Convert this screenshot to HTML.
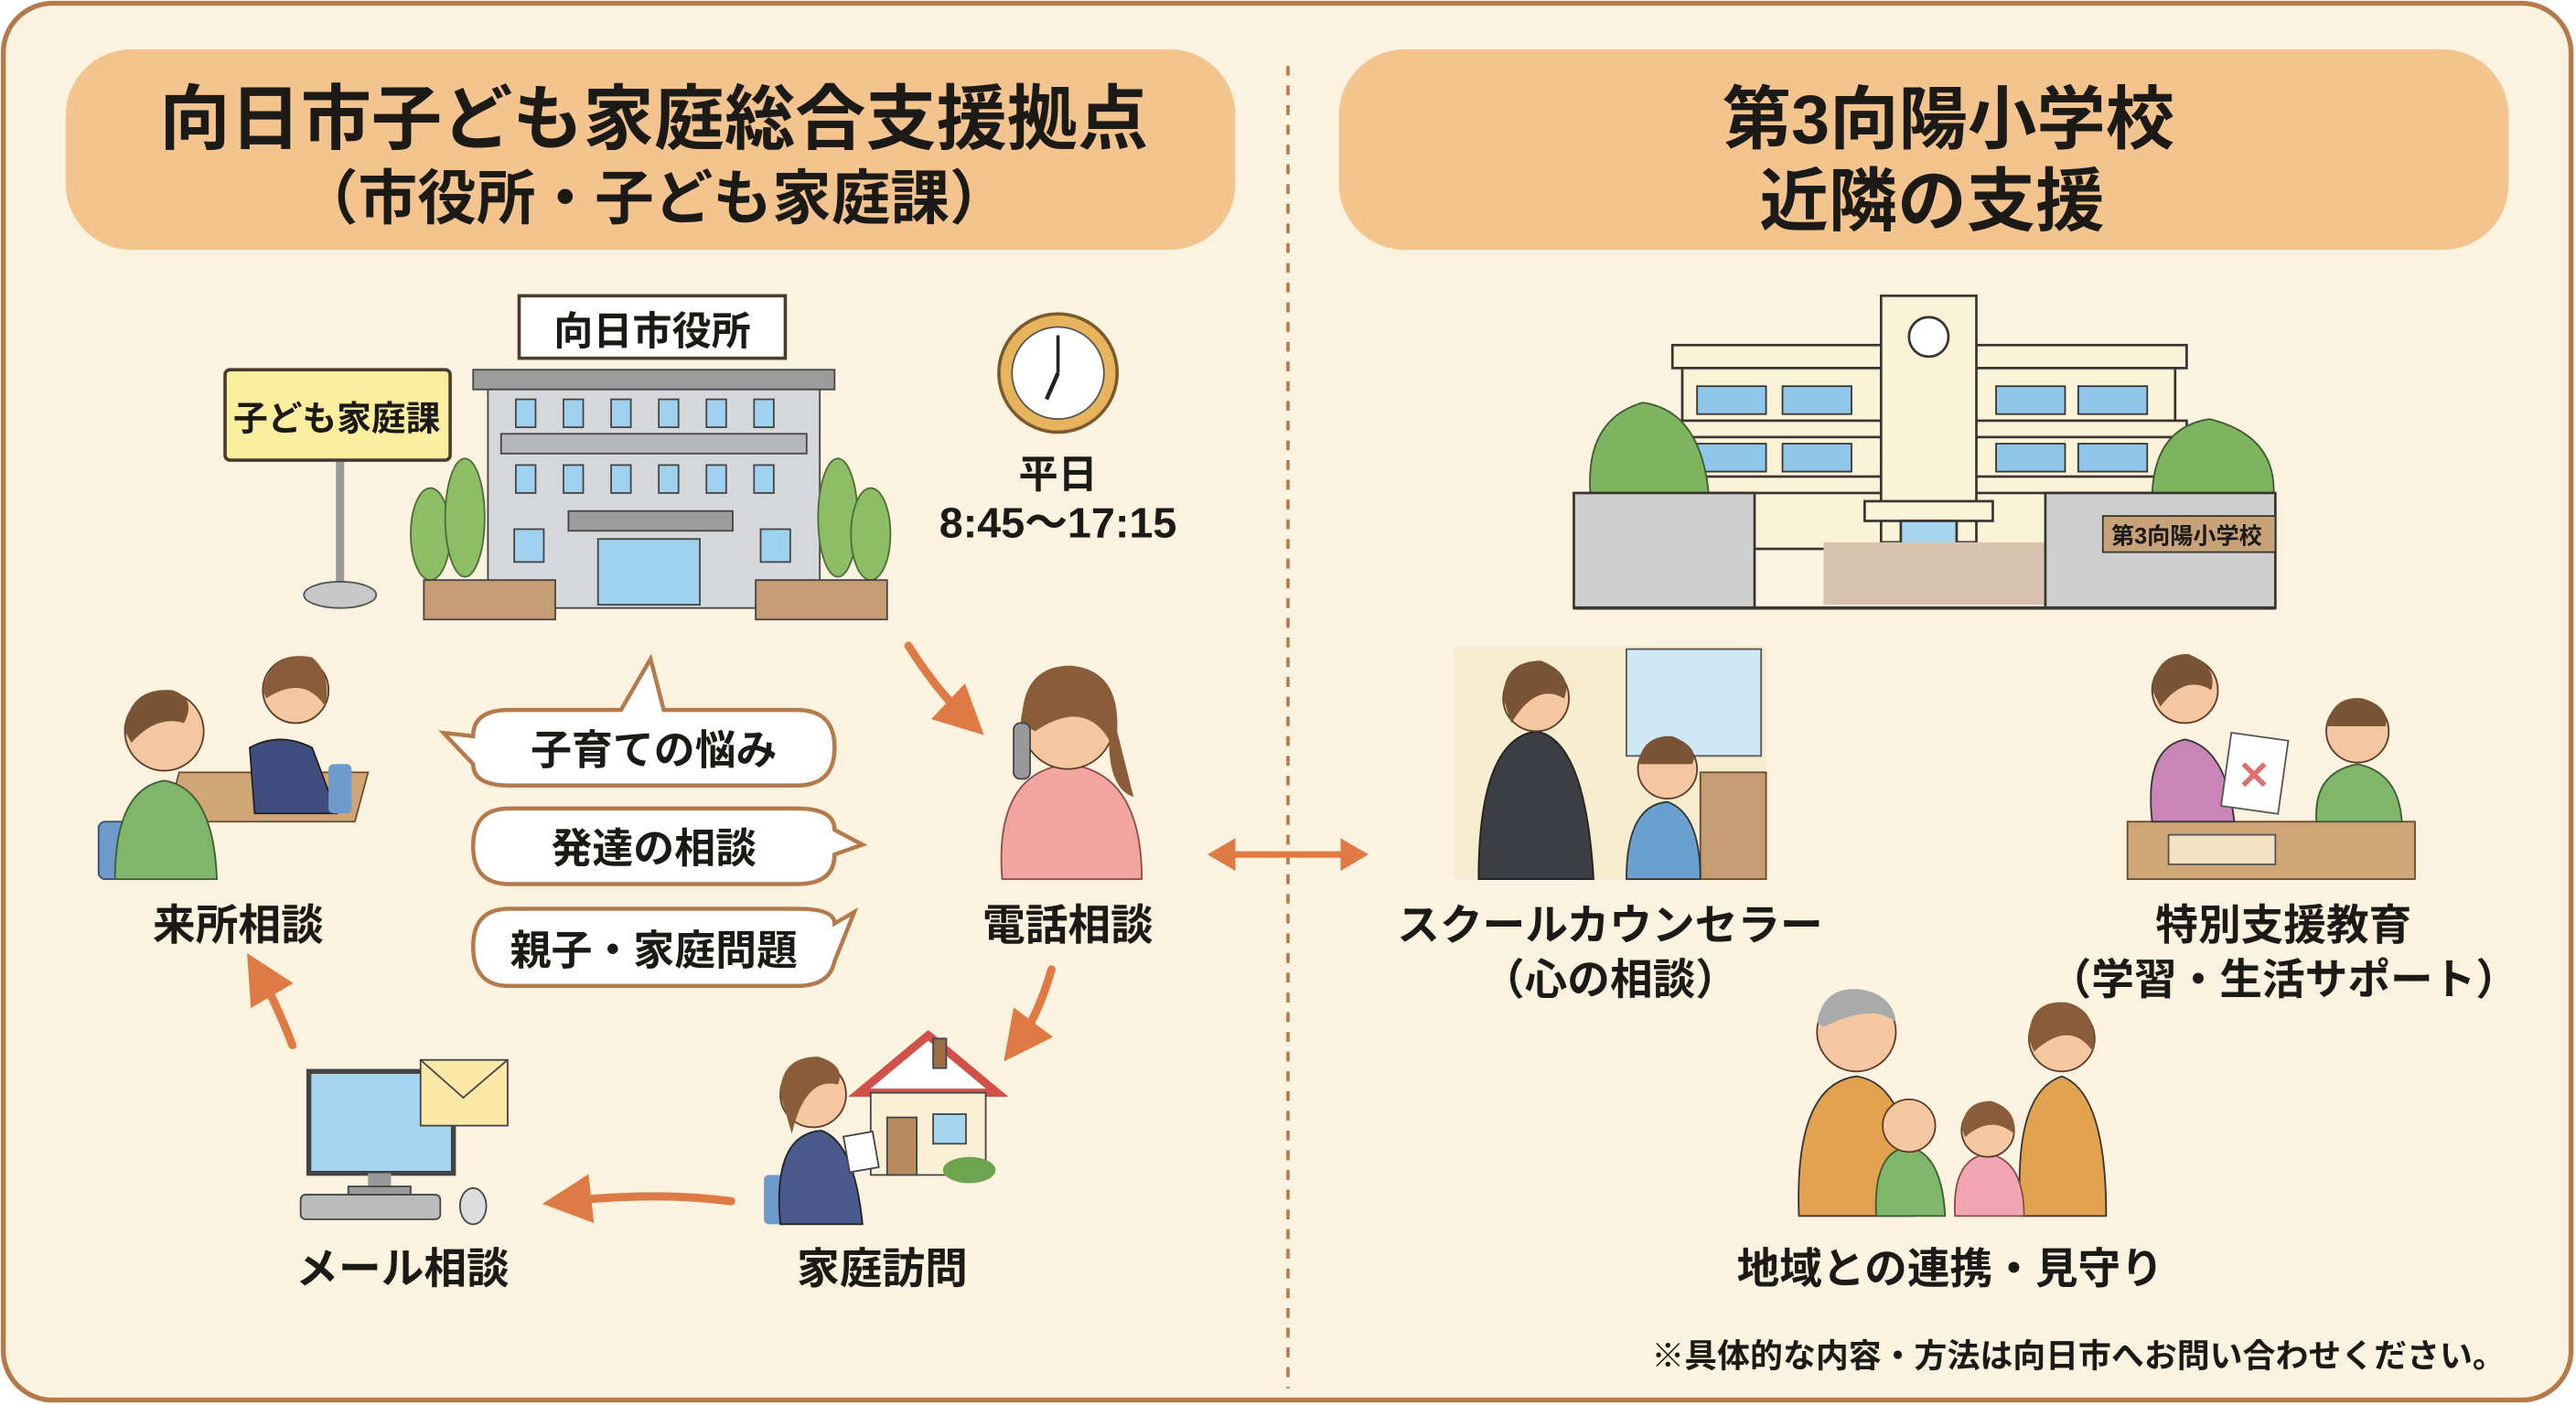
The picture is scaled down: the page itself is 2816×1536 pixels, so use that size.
<!DOCTYPE html>
<html><head><meta charset="utf-8"><style>
html,body{margin:0;padding:0;background:#fff;}
svg{display:block;}
text{font-family:"Liberation Sans","Noto Sans CJK JP",sans-serif;fill:#1c1a17;font-weight:bold;text-anchor:middle;}
</style></head><body>
<svg width="2816" height="1536" viewBox="0 0 1568 855" preserveAspectRatio="none" xmlns="http://www.w3.org/2000/svg">
<defs>
<marker id="ah" markerWidth="6" markerHeight="6" refX="3" refY="3" orient="auto" markerUnits="strokeWidth"><path d="M0,0 L6,3 L0,6 Z" fill="#e07a45"/></marker>
</defs>
<rect x="0" y="0" width="1568" height="855" fill="#fff"/>
<rect x="2" y="2" width="1563" height="850" rx="30" fill="#fbf3e0" stroke="#b57a4c" stroke-width="3"/>
<!-- headers -->
<rect x="40" y="30" width="712" height="122" rx="40" fill="#f4c48f"/>
<text x="398" y="87" font-size="43">向日市子ども家庭総合支援拠点</text>
<text x="398" y="133" font-size="36">（市役所・子ども家庭課）</text>
<rect x="815" y="30" width="712" height="122" rx="40" fill="#f4c48f"/>
<text x="1186" y="87" font-size="42">第3向陽小学校</text>
<text x="1176" y="137" font-size="42">近隣の支援</text>
<line x1="784" y1="40" x2="784" y2="845" stroke="#b57a4c" stroke-width="2" stroke-dasharray="6,6"/>

<!-- city hall -->
<line x1="207" y1="280" x2="207" y2="358" stroke="#999" stroke-width="5"/>
<ellipse cx="207" cy="362" rx="22" ry="8" fill="#c8c8c8" stroke="#555"/>
<rect x="137" y="225" width="137" height="55" rx="3" fill="#fbee9f" stroke="#4a3b2e" stroke-width="2"/>
<text x="205" y="262" font-size="21" font-weight="normal">子ども家庭課</text>
<rect x="316" y="180" width="162" height="38" fill="#fff" stroke="#4a3b2e" stroke-width="2"/>
<text x="397" y="210" font-size="24" font-weight="normal">向日市役所</text>
<rect x="288" y="225" width="220" height="12" fill="#9c9c9c" stroke="#444"/>
<rect x="297" y="237" width="202" height="133" fill="#d5d7da" stroke="#444"/>
<rect x="305" y="264" width="186" height="12" fill="#b5b7ba" stroke="#444"/>
<g fill="#9fd2ef" stroke="#444">
<rect x="314" y="243" width="12" height="17"/><rect x="343" y="243" width="12" height="17"/><rect x="372" y="243" width="12" height="17"/><rect x="401" y="243" width="12" height="17"/><rect x="430" y="243" width="12" height="17"/><rect x="459" y="243" width="12" height="17"/>
<rect x="314" y="283" width="12" height="17"/><rect x="343" y="283" width="12" height="17"/><rect x="372" y="283" width="12" height="17"/><rect x="401" y="283" width="12" height="17"/><rect x="430" y="283" width="12" height="17"/><rect x="459" y="283" width="12" height="17"/>
<rect x="313" y="322" width="18" height="20"/><rect x="463" y="322" width="18" height="20"/>
<rect x="364" y="328" width="62" height="40"/>
</g>
<rect x="346" y="311" width="100" height="12" fill="#9c9c9c" stroke="#444"/>
<g fill="#8dbd65" stroke="#4d6b3a">
<ellipse cx="262" cy="325" rx="12" ry="28"/><ellipse cx="283" cy="315" rx="12" ry="36"/>
<ellipse cx="510" cy="315" rx="12" ry="36"/><ellipse cx="530" cy="325" rx="12" ry="28"/>
</g>
<rect x="258" y="353" width="80" height="24" fill="#c69c74" stroke="#444"/>
<rect x="460" y="353" width="80" height="24" fill="#c69c74" stroke="#444"/>
<!-- clock -->
<circle cx="644" cy="227" r="36" fill="#e7b35d" stroke="#7a5a2a" stroke-width="2"/>
<circle cx="644" cy="227" r="28" fill="#fff" stroke="#555"/>
<line x1="644" y1="227" x2="644" y2="204" stroke="#222" stroke-width="2"/>
<line x1="644" y1="227" x2="637" y2="243" stroke="#222" stroke-width="2.5"/>
<text x="644" y="297" font-size="24">平日</text>
<text x="644" y="327" font-size="26" font-weight="normal">8:45〜17:15</text>

<!-- bubbles -->
<g fill="#fff" stroke="#b57a4c" stroke-width="2.5">
<path d="M310,432 H378 L396,401 L404,432 H485 Q508,432 508,455 Q508,478 485,478 H310 Q288,478 288,465 L270,446 L288,448 Q288,432 310,432 Z"/>
<path d="M310,492 H485 Q508,492 508,505 L525,514 L508,520 Q508,538 485,538 H310 Q288,538 288,515 Q288,492 310,492 Z"/>
<path d="M310,553 H485 Q508,553 508,562 L520,555 L508,585 Q505,600 485,600 H310 Q288,600 288,576 Q288,553 310,553 Z"/>
</g>
<text x="398" y="465" font-size="25">子育ての悩み</text>
<text x="398" y="525" font-size="25">発達の相談</text>
<text x="398" y="587" font-size="25">親子・家庭問題</text>

<!-- 来所相談 -->
<rect x="110" y="470" width="115" height="30" fill="#d0a677" stroke="#6b4a2c" transform="skewX(-15) translate(125,0)"/>
<rect x="60" y="500" width="28" height="35" rx="4" fill="#6c9bcc" stroke="#3a4c6a"/>
<path d="M70,535 Q70,480 100,475 Q130,480 132,535 Z" fill="#7fb66a" stroke="#3d5a33"/>
<circle cx="100" cy="445" r="24" fill="#f5c7a0" stroke="#5a3b26"/>
<path d="M76,445 Q78,418 105,420 Q120,425 112,440 Q95,435 80,452 Z" fill="#7a5436"/>
<path d="M155,495 L152,455 Q170,445 190,455 L205,495 Z" fill="#3f4d80" stroke="#222"/>
<circle cx="180" cy="420" r="20" fill="#f5c7a0" stroke="#5a3b26"/>
<path d="M160,420 Q165,395 190,400 Q202,410 198,430 Q185,410 162,425 Z" fill="#8a5c3a"/>
<rect x="200" y="465" width="14" height="30" rx="3" fill="#6c9bcc"/>
<text x="145" y="572" font-size="26">来所相談</text>

<!-- 電話相談 -->
<path d="M610,535 Q605,470 650,465 Q695,470 695,535 Z" fill="#f2a5a0" stroke="#8a4d4a"/>
<circle cx="650" cy="440" r="28" fill="#f5c7a0" stroke="#5a3b26"/>
<path d="M622,440 Q622,405 652,405 Q682,408 680,445 L690,485 Q675,480 675,450 Q660,425 630,445 Z" fill="#8a5c3a"/>
<rect x="617" y="440" width="10" height="34" rx="4" fill="#999" stroke="#444"/>
<text x="650" y="572" font-size="26">電話相談</text>

<!-- 家庭訪問 -->
<polygon points="523,665 565,630 607,665" fill="#fff" stroke="#d0514a" stroke-width="5"/>
<rect x="530" y="665" width="70" height="50" fill="#fbf0d6" stroke="#444"/>
<rect x="540" y="680" width="18" height="35" fill="#b98a5e" stroke="#444"/>
<rect x="568" y="678" width="20" height="18" fill="#a6d6ef" stroke="#444"/>
<rect x="568" y="632" width="8" height="18" fill="#9a6b45" stroke="#444"/>
<ellipse cx="590" cy="712" rx="16" ry="8" fill="#6ea34f"/>
<rect x="465" y="715" width="20" height="30" rx="3" fill="#6c9bcc"/>
<path d="M475,745 Q470,690 500,688 Q520,695 525,745 Z" fill="#4a5a8c" stroke="#222"/>
<circle cx="495" cy="666" r="20" fill="#f5c7a0" stroke="#5a3b26"/>
<path d="M475,666 Q475,643 498,643 Q515,648 510,660 Q490,655 482,690 Z" fill="#8a5c3a"/>
<rect x="515" y="690" width="18" height="22" fill="#fff" stroke="#444" transform="rotate(-10 524 700)"/>
<text x="537" y="781" font-size="26">家庭訪問</text>

<!-- メール相談 -->
<rect x="188" y="652" width="88" height="62" fill="#a6d6ef" stroke="#444" stroke-width="3"/>
<rect x="224" y="714" width="14" height="10" fill="#999"/>
<rect x="212" y="722" width="38" height="6" fill="#999" stroke="#444"/>
<rect x="183" y="727" width="85" height="15" rx="3" fill="#bbb" stroke="#444"/>
<ellipse cx="288" cy="734" rx="8" ry="11" fill="#ddd" stroke="#444"/>
<rect x="256" y="645" width="53" height="40" fill="#fbe7a6" stroke="#444"/>
<path d="M256,645 L282,668 L309,645" fill="none" stroke="#444"/>
<text x="245" y="781" font-size="26">メール相談</text>

<!-- cycle arrows -->
<g fill="none" stroke="#e07a45" stroke-width="5" stroke-linecap="round" marker-end="url(#ah)">
<path d="M553,393 Q570,420 588,437"/>
<path d="M640,590 Q632,618 620,634"/>
<path d="M445,731 Q400,725 345,731"/>
<path d="M178,636 Q168,610 158,593"/>
</g>
<!-- double arrow -->
<line x1="745" y1="520" x2="823" y2="520" stroke="#e07a45" stroke-width="4"/>
<polygon points="735,520 752,510 752,530" fill="#e07a45"/>
<polygon points="833,520 816,510 816,530" fill="#e07a45"/>

<!-- school -->
<g stroke="#3a3430" stroke-width="1.5">
<rect x="1018" y="210" width="313" height="14" fill="#fbf3d8"/>
<rect x="1024" y="224" width="300" height="110" fill="#fbf3d8"/>
<rect x="1018" y="256" width="313" height="10" fill="#fbf3d8"/>
<rect x="1018" y="290" width="313" height="10" fill="#fbf3d8"/>
<rect x="1145" y="180" width="58" height="150" fill="#fbf3d8"/>
<circle cx="1174" cy="205" r="12" fill="#fff"/>
<rect x="1135" y="305" width="78" height="12" fill="#fbf3d8"/>
<rect x="1157" y="317" width="34" height="30" fill="#a6d6ef"/>
</g>
<g fill="#8fc6ea" stroke="#3a3430">
<rect x="1033" y="235" width="42" height="17"/><rect x="1085" y="235" width="42" height="17"/><rect x="1215" y="235" width="42" height="17"/><rect x="1265" y="235" width="42" height="17"/>
<rect x="1033" y="270" width="42" height="17"/><rect x="1085" y="270" width="42" height="17"/><rect x="1215" y="270" width="42" height="17"/><rect x="1265" y="270" width="42" height="17"/>
</g>
<g fill="#7eb35f" stroke="#3d5a33">
<path d="M968,300 Q965,255 1000,245 Q1035,250 1040,300 Z"/>
<path d="M1310,300 Q1312,260 1345,255 Q1385,265 1384,300 Z"/>
</g>
<rect x="1110" y="330" width="135" height="38" fill="#d8c3ae"/>
<rect x="958" y="300" width="110" height="70" fill="#cfcfcf" stroke="#3a3430" stroke-width="1.5"/>
<rect x="1245" y="300" width="140" height="70" fill="#cfcfcf" stroke="#3a3430" stroke-width="1.5"/>
<rect x="1280" y="314" width="105" height="22" fill="#c8a37a" stroke="#3a3430"/>
<text x="1331" y="331" font-size="14" font-weight="normal">第3向陽小学校</text>
<line x1="958" y1="370" x2="1385" y2="370" stroke="#3a3430" stroke-width="2"/>

<!-- counselor -->
<rect x="885" y="393" width="190" height="142" fill="#f6ecd0"/>
<rect x="990" y="395" width="82" height="65" fill="#cfe8f5" stroke="#555"/>
<rect x="1035" y="470" width="40" height="65" fill="#c69c74" stroke="#6b4a2c"/>
<path d="M900,535 Q900,450 935,445 Q965,450 970,535 Z" fill="#3d3d44" stroke="#222"/>
<circle cx="935" cy="425" r="20" fill="#f5c7a0" stroke="#5a3b26"/>
<path d="M915,425 Q915,402 938,402 Q958,410 952,425 Q935,415 920,440 Z" fill="#7a5436"/>
<path d="M990,535 Q990,490 1015,488 Q1035,495 1035,535 Z" fill="#6aa0cf" stroke="#333"/>
<circle cx="1015" cy="468" r="18" fill="#f5c7a0" stroke="#5a3b26"/>
<path d="M997,465 Q1000,447 1018,448 Q1035,455 1030,465 Z" fill="#7a5436"/>
<text x="980" y="572" font-size="26">スクールカウンセラー</text>
<text x="980" y="605" font-size="26" font-weight="normal">（心の相談）</text>

<!-- special ed -->
<rect x="1295" y="500" width="175" height="35" fill="#d0a677" stroke="#6b4a2c"/>
<rect x="1320" y="508" width="65" height="18" fill="#f3e3c3" stroke="#555"/>
<path d="M1310,500 Q1305,455 1330,450 Q1355,455 1360,500 Z" fill="#c985b8" stroke="#333"/>
<circle cx="1330" cy="420" r="20" fill="#f5c7a0" stroke="#5a3b26"/>
<path d="M1310,420 Q1312,398 1332,398 Q1350,405 1346,420 Q1330,410 1315,430 Z" fill="#7a5436"/>
<rect x="1355" y="448" width="35" height="45" fill="#fff" stroke="#555" transform="rotate(8 1372 470)"/>
<text x="1372" y="480" font-size="24" style="fill:#e07070">✕</text>
<path d="M1410,500 Q1408,470 1435,465 Q1460,470 1462,500 Z" fill="#7fb66a" stroke="#3d5a33"/>
<circle cx="1435" cy="445" r="19" fill="#f5c7a0" stroke="#5a3b26"/>
<path d="M1416,442 Q1420,423 1438,425 Q1455,430 1452,442 Z" fill="#7a5436"/>
<text x="1390" y="572" font-size="26">特別支援教育</text>
<text x="1390" y="605" font-size="26" font-weight="normal">（学習・生活サポート）</text>

<!-- family -->
<path d="M1095,740 Q1092,660 1130,655 Q1165,660 1165,740 Z" fill="#e3a24d" stroke="#333"/>
<circle cx="1130" cy="628" r="24" fill="#f5c7a0" stroke="#5a3b26"/>
<path d="M1106,622 Q1110,600 1132,602 Q1152,605 1154,622 Q1140,610 1110,625 Z" fill="#aaa"/>
<path d="M1230,740 Q1225,665 1255,655 Q1282,665 1282,740 Z" fill="#e3a24d" stroke="#333"/>
<circle cx="1255" cy="632" r="20" fill="#f5c7a0" stroke="#5a3b26"/>
<path d="M1235,632 Q1235,608 1258,610 Q1278,615 1274,640 Q1260,620 1238,640 Z" fill="#8a5c3a"/>
<path d="M1142,740 Q1140,700 1162,698 Q1182,702 1184,740 Z" fill="#7fb66a" stroke="#3d5a33"/>
<circle cx="1162" cy="685" r="16" fill="#f5c7a0" stroke="#5a3b26"/>
<path d="M1190,740 Q1188,705 1210,702 Q1232,706 1232,740 Z" fill="#f2a5b5" stroke="#8a4d4a"/>
<circle cx="1210" cy="688" r="16" fill="#f5c7a0" stroke="#5a3b26"/>
<path d="M1194,686 Q1196,670 1212,670 Q1228,675 1226,690 Q1212,678 1196,692 Z" fill="#8a5c3a"/>
<text x="1187" y="781" font-size="26">地域との連携・見守り</text>

<text x="1525" y="832" font-size="20" font-weight="normal" style="text-anchor:end">※具体的な内容・方法は向日市へお問い合わせください。</text>
</svg>
</body></html>
